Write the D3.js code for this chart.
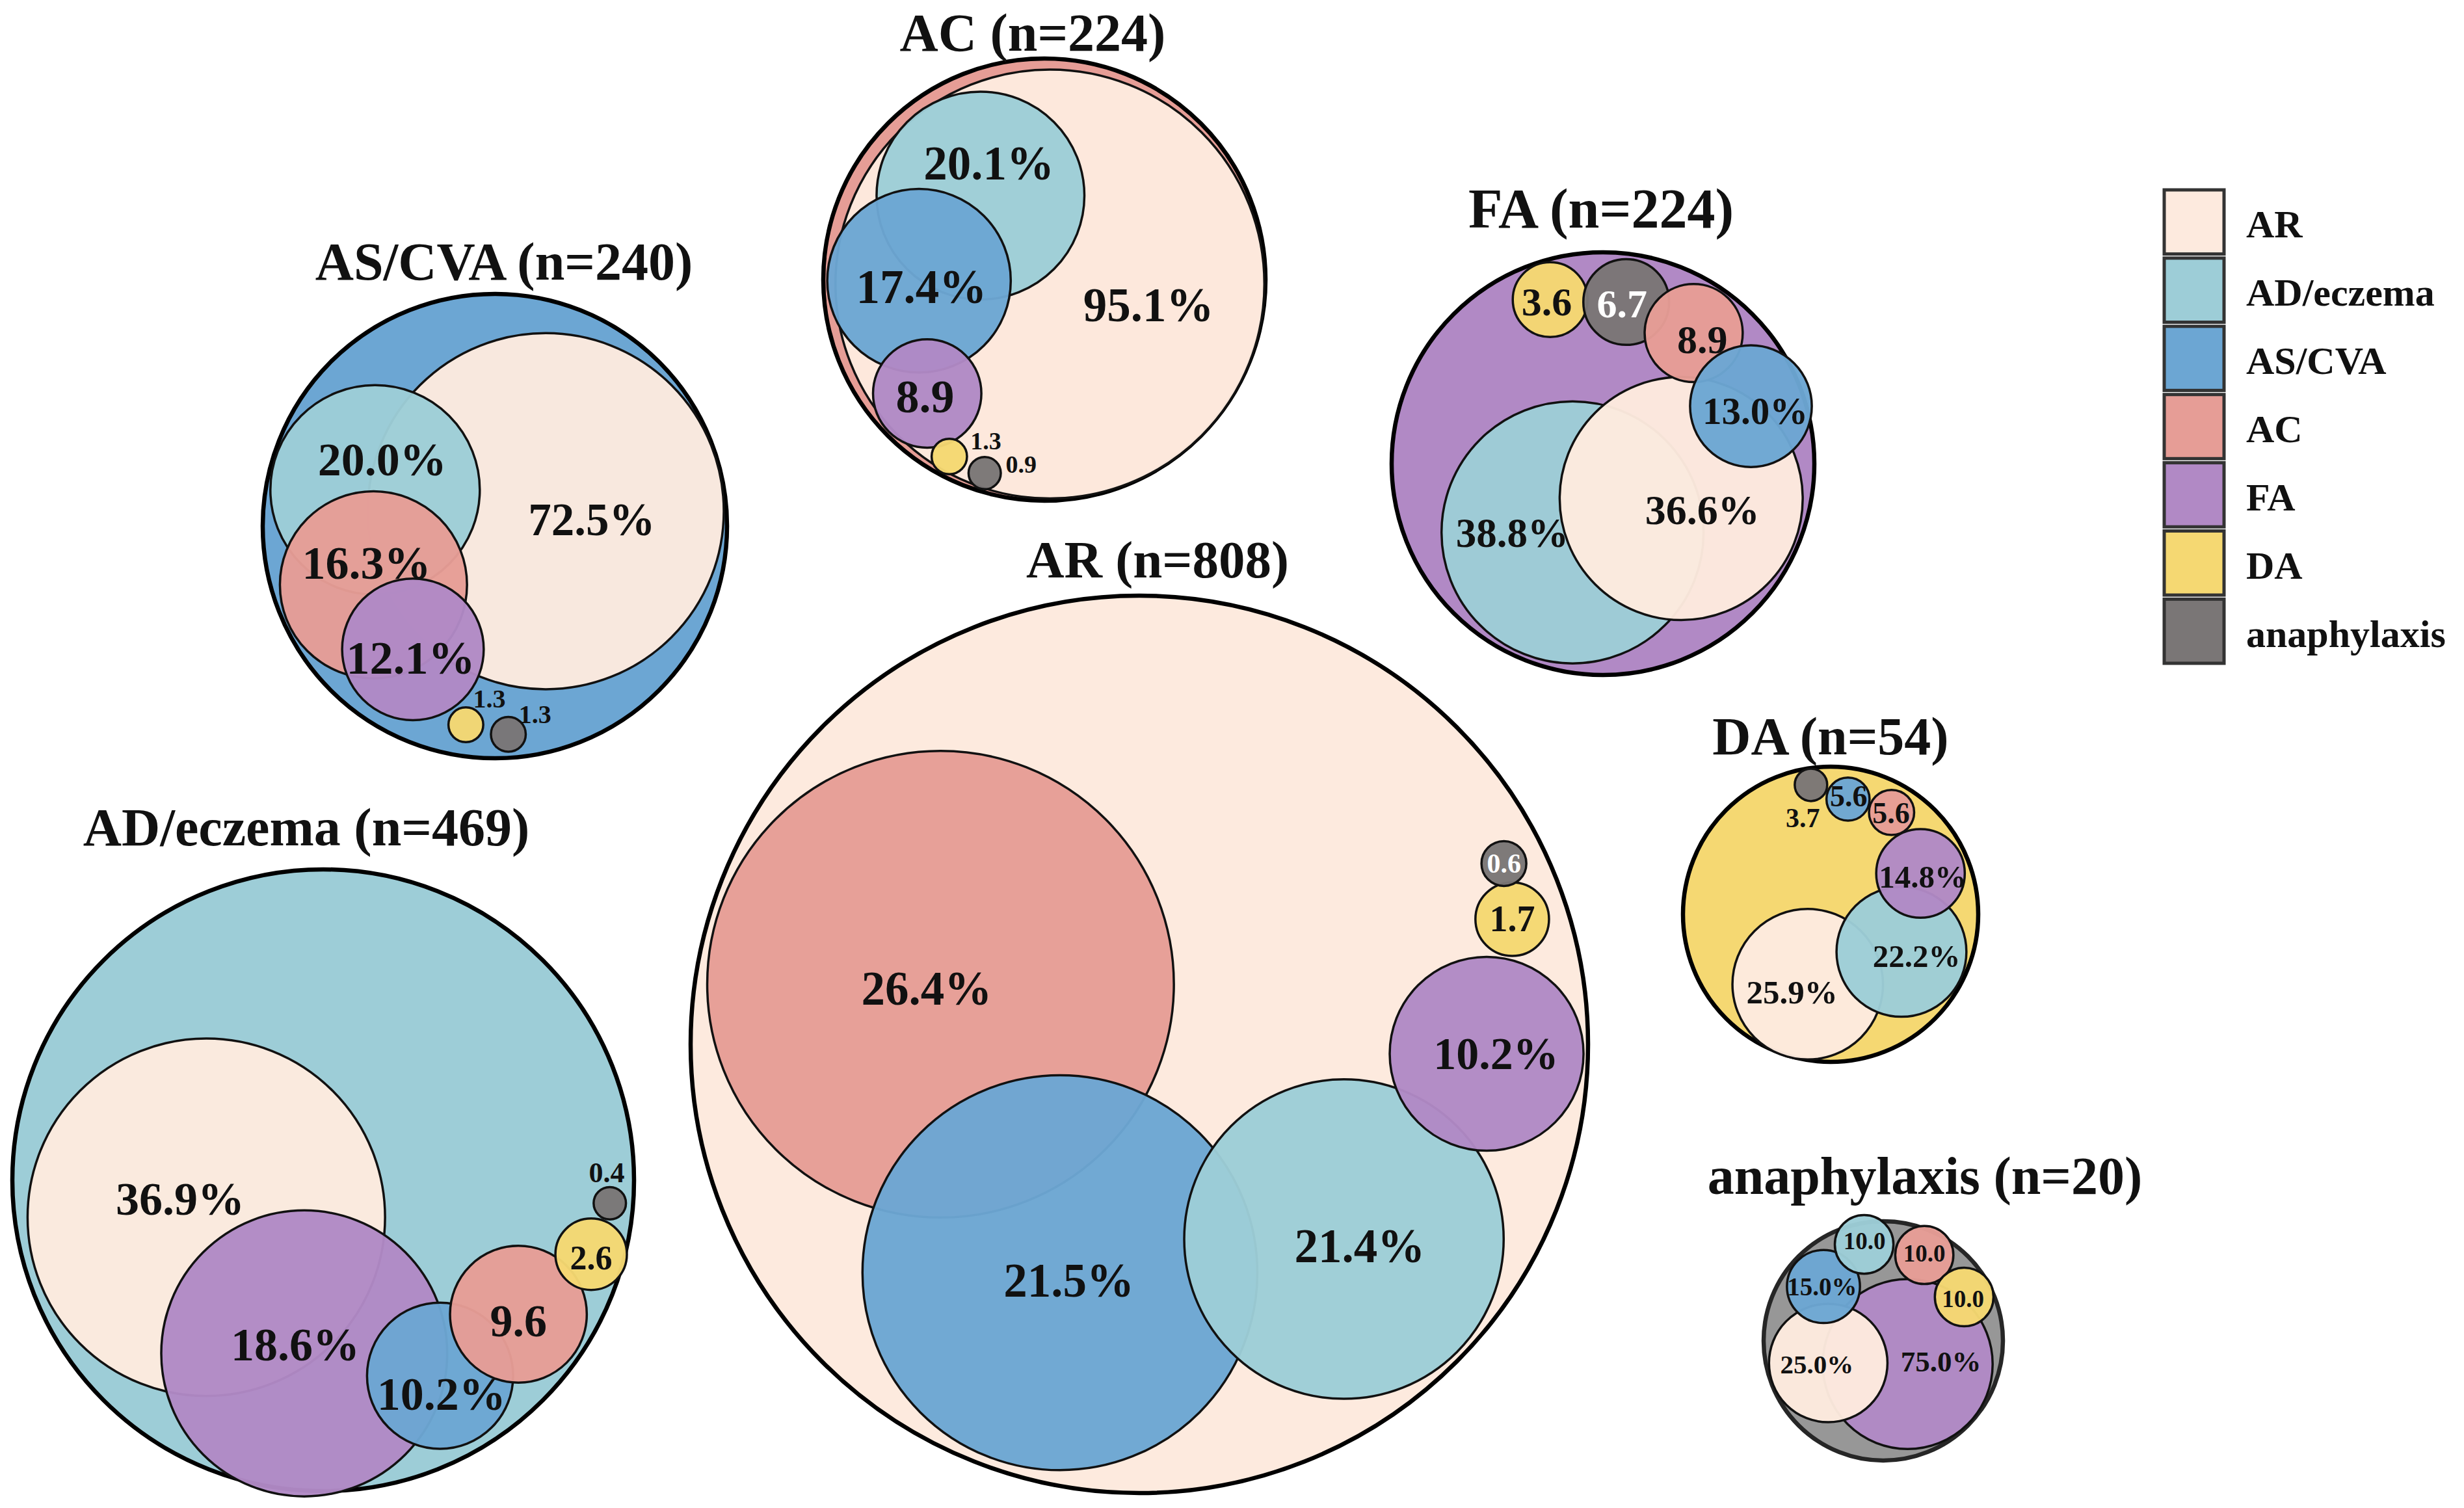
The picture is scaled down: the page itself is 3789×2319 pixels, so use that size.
<!DOCTYPE html>
<html>
<head>
<meta charset="utf-8">
<script src="https://cdn.jsdelivr.net/npm/d3@7"></script>
<style>
  html, body { margin: 0; padding: 0; background: #ffffff; }
  svg text { font-family: "Liberation Serif", "Times New Roman", serif; font-weight: bold; }
</style>
</head>
<body>
<svg id="chart" width="3789" height="2319"></svg>
<script>
// ---------------- DATA ----------------
const categories = ["AR", "AD/eczema", "AS/CVA", "AC", "FA", "DA", "anaphylaxis"];
const categoryColors = ["#FDEADE", "#9DCDD7", "#6CA6D3", "#E69D96", "#B189C5", "#F5D872", "#7A7676"];

const groupNames = ["AS/CVA", "AC", "FA", "AR", "AD/eczema", "DA", "anaphylaxis"];
const groupN     = [240, 224, 224, 808, 469, 54, 20];

// co-occurrence percentages inside each group (draw order)
const asCvaCats = ["AR", "AD/eczema", "AC", "FA", "DA", "anaphylaxis"];
const asCvaVals = [72.5, 20.0, 16.3, 12.1, 1.3, 1.3];

const acCats = ["AR", "AD/eczema", "AS/CVA", "FA", "DA", "anaphylaxis"];
const acVals = [95.1, 20.1, 17.4, 8.9, 1.3, 0.9];

const faCats = ["AD/eczema", "AR", "DA", "anaphylaxis", "AC", "AS/CVA"];
const faVals = [38.8, 36.6, 3.6, 6.7, 8.9, 13.0];

const arCats = ["AC", "AS/CVA", "AD/eczema", "FA", "DA", "anaphylaxis"];
const arVals = [26.4, 21.5, 21.4, 10.2, 1.7, 0.6];

const adCats = ["AR", "FA", "AS/CVA", "AC", "DA", "anaphylaxis"];
const adVals = [36.9, 18.6, 10.2, 9.6, 2.6, 0.4];

const daCats = ["AR", "AD/eczema", "FA", "AC", "AS/CVA", "anaphylaxis"];
const daVals = [25.9, 22.2, 14.8, 5.6, 5.6, 3.7];

const anaCats = ["FA", "AR", "AS/CVA", "AD/eczema", "AC", "DA"];
const anaVals = [75.0, 25.0, 15.0, 10.0, 10.0, 10.0];

const groupCats = [asCvaCats, acCats, faCats, arCats, adCats, daCats, anaCats];
const groupVals = [asCvaVals, acVals, faVals, arVals, adVals, daVals, anaVals];

// ---------------- LAYOUT (positions / sizes, kept apart from the data) ----------------
// outer circle: [cx, cy, R]; title: [x, baseline y, fontSize]
const outerLayout = [
  [761, 809, 357], [1606, 430, 340], [2465, 713, 325], [1752, 1606, 690],
  [497, 1815, 478], [2815, 1406, 227], [2896, 2062, 184]
];
const outerFills = { "anaphylaxis": "#979797" };
const titleLayout = [
  [775, 430, 82], [1588, 78, 82], [2462, 350, 86], [1780, 888, 81],
  [471, 1300, 82], [2815, 1160, 82], [2960, 1836, 82]
];
// inner circles, relative to the outer circle (units of R): [dx, dy, r, labelDx, labelDy, fontSize]
const innerLayout = [
  [[0.219, -0.064, 0.767, 0.417, -0.029, 71], [-0.516, -0.156, 0.451, -0.485, -0.286, 72],
   [-0.523, 0.253, 0.403, -0.553, 0.16, 72], [-0.353, 0.531, 0.305, -0.363, 0.569, 72],
   [-0.125, 0.856, 0.075, -0.024, 0.743, 40], [0.058, 0.897, 0.075, 0.173, 0.811, 40]],
  [[0.025, 0.02, 0.97, 0.471, 0.117, 73], [-0.289, -0.38, 0.47, -0.251, -0.525, 73],
   [-0.567, 0.005, 0.415, -0.556, 0.035, 73], [-0.53, 0.515, 0.245, -0.54, 0.53, 72],
   [-0.43, 0.8, 0.08, -0.265, 0.73, 38], [-0.27, 0.875, 0.073, -0.105, 0.835, 38]],
  [[-0.144, 0.325, 0.62, -0.43, 0.33, 63], [0.37, 0.165, 0.575, 0.47, 0.22, 64],
   [-0.25, -0.776, 0.177, -0.266, -0.765, 62], [0.11, -0.765, 0.203, 0.09, -0.756, 62],
   [0.429, -0.618, 0.232, 0.47, -0.588, 62], [0.70, -0.272, 0.288, 0.72, -0.25, 59]],
  [[-0.443, -0.134, 0.52, -0.474, -0.124, 73], [-0.177, 0.509, 0.44, -0.157, 0.527, 73],
   [0.456, 0.434, 0.356, 0.491, 0.45, 73], [0.774, 0.021, 0.216, 0.795, 0.021, 70],
   [0.831, -0.279, 0.082, 0.831, -0.279, 56], [0.8125, -0.403, 0.05, 0.8125, -0.403, 42]],
  [[-0.376, 0.119, 0.575, -0.46, 0.06, 72], [-0.061, 0.557, 0.46, -0.09, 0.529, 72],
   [0.376, 0.629, 0.235, 0.38, 0.689, 72], [0.628, 0.431, 0.22, 0.628, 0.452, 70],
   [0.862, 0.238, 0.115, 0.862, 0.25, 52], [0.922, 0.074, 0.052, 0.912, -0.024, 44]],
  [[-0.155, 0.474, 0.51, -0.262, 0.527, 51], [0.48, 0.254, 0.44, 0.582, 0.286, 49],
   [0.609, -0.277, 0.3, 0.624, -0.252, 49], [0.413, -0.69, 0.153, 0.41, -0.685, 46],
   [0.118, -0.78, 0.146, 0.122, -0.8, 46], [-0.133, -0.877, 0.11, -0.188, -0.652, 42]],
  [[0.204, 0.194, 0.71, 0.481, 0.176, 45], [-0.46, 0.185, 0.495, -0.555, 0.194, 41],
   [-0.5, -0.454, 0.305, -0.511, -0.454, 39], [-0.16, -0.806, 0.245, -0.157, -0.833, 37],
   [0.343, -0.718, 0.243, 0.343, -0.731, 37], [0.676, -0.367, 0.245, 0.667, -0.352, 37]]
];
const whiteLabels = ["FA|anaphylaxis", "AR|anaphylaxis"];

// ---------------- DRAW ----------------
const svg = d3.select("#chart");
const color = d3.scaleOrdinal().domain(categories).range(categoryColors);
const fmt = d3.format(".1f");
const labelText = v => fmt(v) + (v > 10 ? "%" : "");

groupNames.forEach((g, gi) => {
  const [cx, cy, R] = outerLayout[gi];
  const x = d3.scaleLinear().domain([-1, 1]).range([cx - R, cx + R]);
  const y = d3.scaleLinear().domain([-1, 1]).range([cy - R, cy + R]);
  const r = d3.scaleLinear().domain([0, 1]).range([0, R]);
  const layer = svg.append("g").attr("class", "group");

  layer.append("circle")
    .attr("cx", x(0)).attr("cy", y(0)).attr("r", r(1))
    .attr("fill", outerFills[g] || color(g))
    .attr("stroke", g === "anaphylaxis" ? "#262626" : "#000")
    .attr("stroke-width", 6.5);

  const items = groupCats[gi].map((c, i) => ({ cat: c, val: groupVals[gi][i], lay: innerLayout[gi][i] }));

  layer.selectAll("circle.inner").data(items).join("circle")
    .attr("class", "inner")
    .attr("cx", d => x(d.lay[0])).attr("cy", d => y(d.lay[1])).attr("r", d => r(d.lay[2]))
    .attr("fill", d => color(d.cat)).attr("fill-opacity", 0.97)
    .attr("stroke", "#111").attr("stroke-width", 3.5);

  layer.selectAll("text.lbl").data(items).join("text")
    .attr("class", "lbl")
    .attr("x", d => x(d.lay[3])).attr("y", d => y(d.lay[4]))
    .attr("text-anchor", "middle").attr("dominant-baseline", "central")
    .attr("font-size", d => d.lay[5])
    .attr("fill", d => whiteLabels.includes(g + "|" + d.cat) ? "#ffffff" : "#111")
    .text(d => labelText(d.val));

  svg.append("text")
    .attr("x", titleLayout[gi][0]).attr("y", titleLayout[gi][1])
    .attr("text-anchor", "middle").attr("font-size", titleLayout[gi][2]).attr("fill", "#111")
    .text(`${g} (n=${groupN[gi]})`);
});

// legend
const legendY = d3.scaleBand().domain(categories).range([292, 1020]).paddingInner(0.06);
const legend = svg.append("g");
legend.selectAll("rect").data(categories).join("rect")
  .attr("x", 3328).attr("y", d => legendY(d))
  .attr("width", 92).attr("height", legendY.bandwidth())
  .attr("fill", d => color(d)).attr("stroke", "#333").attr("stroke-width", 5);
legend.selectAll("text").data(categories).join("text")
  .attr("x", 3454).attr("y", d => legendY(d) + legendY.bandwidth() / 2 + 4)
  .attr("dominant-baseline", "central").attr("font-size", 60).attr("fill", "#111")
  .text(d => d);
</script>
</body>
</html>
